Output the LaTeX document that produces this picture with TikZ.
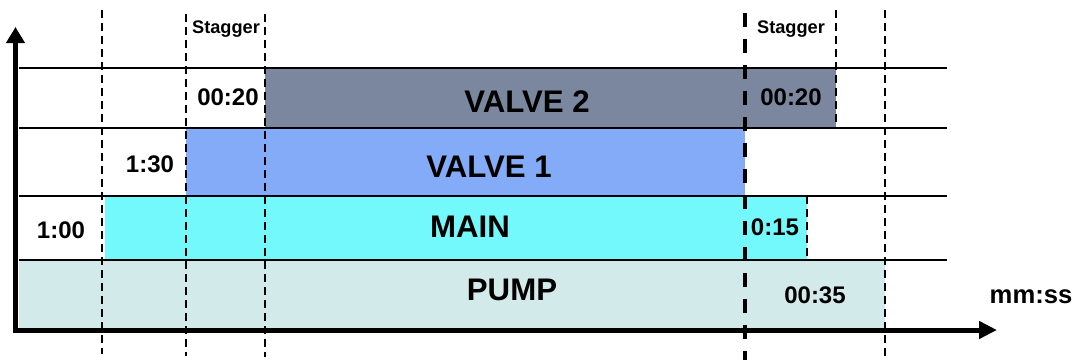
\documentclass[tikz,border=0pt]{standalone}
\usepackage{fontspec}
\setmainfont{Liberation Sans}
\usetikzlibrary{arrows.meta, patterns.meta}
\definecolor{navy}{HTML}{1C3058}
\definecolor{valveblue}{HTML}{1F66F0}
\definecolor{maincyan}{HTML}{00F4F8}
\definecolor{pumpteal}{HTML}{A8D4D8}

\tikzdeclarepattern{
  name=checks,
  type=uncolored,
  bottom left={(0pt,0pt)},
  top right={(2pt,2pt)},
  tile size={(2pt,2pt)},
  code={
    \fill (0pt,0pt) rectangle (1pt,1pt);
    \fill (1pt,1pt) rectangle (2pt,2pt);
  }
}

\begin{document}
\begin{tikzpicture}[
  x=0.5pt, y=-0.5pt,
  note/.style={font=\fontsize{9.1}{11}\selectfont\bfseries, inner sep=0pt, anchor=base},
  lbl/.style={font=\fontsize{12}{14}\selectfont\bfseries, inner sep=0pt, anchor=base},
  big/.style={font=\fontsize{15.6}{18}\selectfont\bfseries, inner sep=0pt, anchor=base},
  bar/.style={pattern=checks},
  sep/.style={line width=1pt},
  guide/.style={line width=0.9pt, dash pattern=on 4pt off 2.5pt},
  cut/.style={line width=2pt, dash pattern=on 7pt off 6pt},
  axis/.style={line width=2.5pt,
               {Triangle[length=8pt,width=9pt]}-{Triangle[length=9pt,width=8.5pt]}},
]
\useasboundingbox (0,0) rectangle (1077,360);

% bars
\path[bar, fill=pumpteal!50, pattern color=pumpteal]   (19,260)  rectangle (885,328);
\path[bar, fill=maincyan!55, pattern color=maincyan]   (105,196) rectangle (807,260);
\path[bar, fill=valveblue!55, pattern color=valveblue] (186,128) rectangle (745,196);
\path[bar, fill=navy!58, pattern color=navy]           (265,68)  rectangle (836,128);

% row separators
\foreach \y in {68,128,196,260}
  \draw[sep] (19,\y) -- (947,\y);

% time marks
\coordinate (g1t) at (102,10);  \coordinate (g1b) at (102,354);
\coordinate (g2t) at (186,14);  \coordinate (g2b) at (186,356);
\coordinate (g3t) at (265,14);  \coordinate (g3b) at (265,357);
\coordinate (g4t) at (836,10);  \coordinate (g4b) at (836,128);
\coordinate (g5t) at (885,10);  \coordinate (g5b) at (885,360);
\coordinate (g6t) at (807,196); \coordinate (g6b) at (807,260);
\coordinate (ct)  at (745,13);  \coordinate (cb)  at (745,360);
\foreach \g in {g1,g2,g3,g4,g5,g6}
  \draw[guide] (\g t) -- (\g b);
\draw[cut] (ct) -- (cb);

% axes
\coordinate (ytip) at (15.5,27);
\coordinate (xtip) at (997,330);
\draw[axis] (ytip) |- (xtip);

% labels
\node[note] (stagL) at (226,33) {Stagger};
\node[note] (stagR) at (791,33) {Stagger};

\node[lbl] (v2pre)  at (228,105) {00:20};
\node[big] (v2)     at (527,112) {VALVE 2};
\node[lbl] (v2post) at (791,105) {00:20};

\node[lbl] (v1pre) at (150,172) {1:30};
\node[big] (v1)    at (489,177) {VALVE 1};

\node[lbl] (mainpre)  at (61,238)  {1:00};
\node[big] (main)     at (470,237) {MAIN};
\node[lbl] (mainpost) at (775,235) {0:15};

\node[big] (pump)     at (512,300) {PUMP};
\node[lbl] (pumppost) at (815,303) {00:35};

\node[font=\fontsize{12.8}{15}\selectfont\bfseries, inner sep=0pt, anchor=base]
     (unit) at (1031,303) {mm:ss};
\end{tikzpicture}
\end{document}
